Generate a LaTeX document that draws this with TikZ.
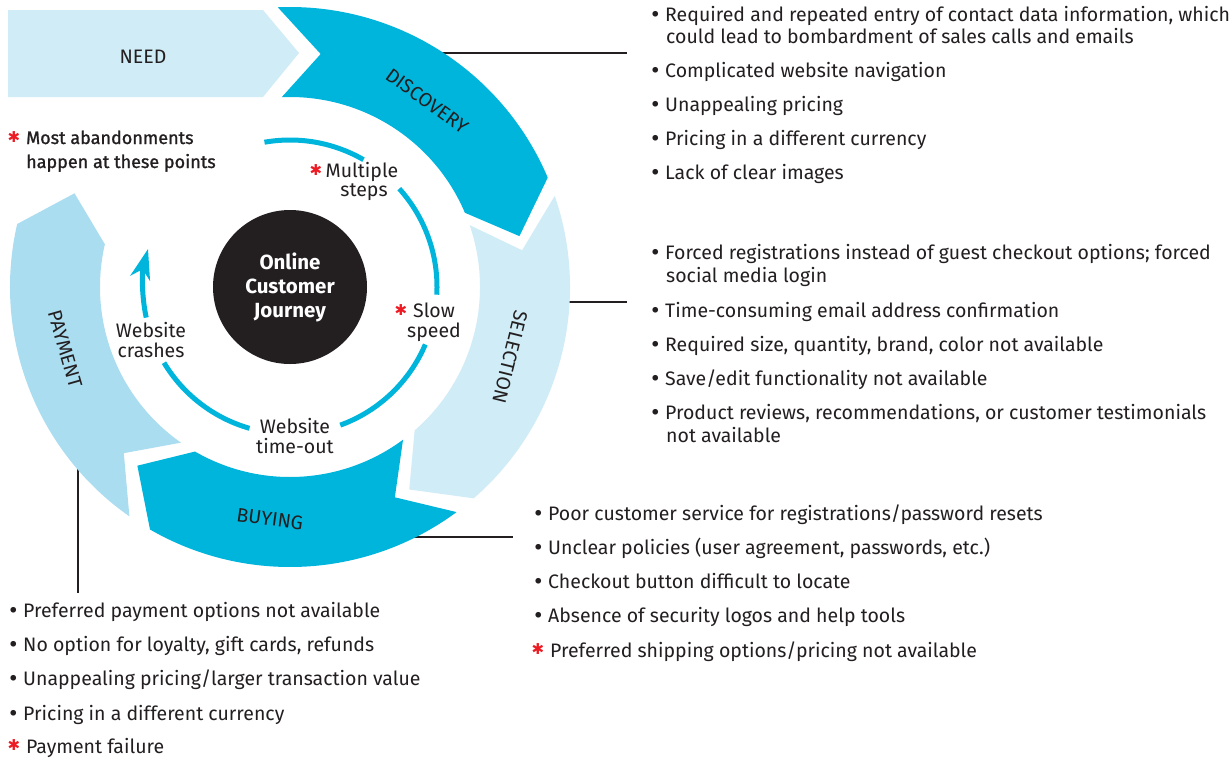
\documentclass[tikz,border=0pt]{standalone}
\usepackage{fontspec}
\setmainfont{Fira Sans}
\newfontfamily\symfont{DejaVu Sans}
\newfontfamily\medfont{Fira Sans}[FakeBold=1.2]
\usetikzlibrary{calc,arrows.meta}

\definecolor{cyanband}{HTML}{00B5DC}
\definecolor{paleband}{HTML}{D0ECF7}
\definecolor{midband}{HTML}{ABDDF0}
\definecolor{ink}{HTML}{231F20}
\definecolor{alert}{HTML}{ED1C24}

% one curved arrow of the journey ring: colour, tail angle, head angle
\newcommand\ringband[3]{%
  \fill[#1] ($(C)+(#2:280)$) arc[start angle=#2, end angle=#3, radius=280pt]
    -- ($(C)+(#3-10.5:235)$) -- ($(C)+(#3:190)$)
    arc[start angle=#3, end angle=#2, radius=190pt]
    -- ($(C)+(#2-10:235)$) -- cycle;}

\newcommand\redstar{{\symfont\color{alert}\fontsize{15}{15}\selectfont ✱}}
\newcommand\dotmark{\makebox[13pt][l]{\hspace{-2.5pt}{\symfont •}}}

\begin{document}
\begin{tikzpicture}[x=1pt, y=1pt,
  txt/.style={font=\fontsize{19.5}{20}\selectfont, text=ink, inner sep=0pt},
  item/.style={txt, anchor=base west},
  bandlabel/.style={txt},
  innerlabel/.style={txt, align=center},
  hub/.style={font=\bfseries\fontsize{20.5}{24}\selectfont, text=white, align=center, inner sep=0pt},
  star/.style={inner sep=0pt},
  lead/.style={draw=ink, line width=1.6pt},
  track/.style={draw=cyanband, line width=5pt}]

\useasboundingbox (0,0) rectangle (1230,-758);
\fill[white] (0,0) rectangle (1230,-758);
\coordinate (C) at (290,-287);

% leader lines (their inner ends hide under the ring)
\coordinate (discTap) at (430,-53);
\coordinate (discEnd) at (627,-53);
\coordinate (selTap) at (540,-302);
\coordinate (selEnd) at (627,-302);
\coordinate (buyTap) at (395,-537);
\coordinate (buyEnd) at (513,-537);
\coordinate (payTap) at (78,-455);
\coordinate (payEnd) at (78,-593);
\draw[lead] (discTap) -- (discEnd);
\draw[lead] (selTap) -- (selEnd);
\draw[lead] (buyTap) -- (buyEnd);
\draw[lead] (payTap) -- (payEnd);

% NEED arrow
\fill[paleband] (8,-10) -- (263,-10) -- (299,-53) -- (263,-97) -- (8,-97) -- cycle;
\node[bandlabel] (need) at (143,-57) {NEED};

% journey ring
\ringband{cyanband}{92.5}{23}
\ringband{paleband}{19}{-49}
\ringband{cyanband}{-53.5}{-120}
\ringband{midband}{-125}{-193}

\node[bandlabel, rotate=-36] (disc) at (427,-101) {DISCOVERY};
\node[bandlabel, rotate=-104] (sel) at (510,-357) {SELECTION};
\node[bandlabel, rotate=-8] (buy) at (270,-519) {BUYING};
\node[bandlabel, rotate=-74] (pay) at (65,-349) {PAYMENT};

% inner track
\draw[track] ($(C)+(100:147)$) arc[start angle=100, end angle=60, radius=147pt];
\draw[track] ($(C)+(42:147)$) arc[start angle=42, end angle=-3, radius=147pt];
\draw[track] ($(C)+(-23:147)$) arc[start angle=-23, end angle=-70, radius=147pt];
\draw[track] ($(C)+(-106:147)$) arc[start angle=-106, end angle=-149, radius=147pt];
\draw[track, -{Stealth[length=30pt, width=20pt, inset=9pt]}]
  ($(C)+(-168:147)$) arc[start angle=-168, end angle=-195, radius=147pt];

% hub
\fill[ink] (C) circle[radius=77pt];
\node[hub] (hubtext) at ($(C)+(0,0)$) {Online\\Customer\\Journey};

% labels on the track
\node[innerlabel, anchor=base] (steps1) at (362,-177) {Multiple};
\node[innerlabel, anchor=base] (steps2) at (364,-196) {steps};
\node[star] (stepsStar) at (316,-170) {\redstar};
\node[innerlabel, anchor=base] (slow1) at (434,-317) {Slow};
\node[innerlabel, anchor=base] (slow2) at (434,-337) {speed};
\node[star] (slowStar) at (401,-310) {\redstar};
\node[innerlabel, anchor=base] (time1) at (295,-433) {Website};
\node[innerlabel, anchor=base] (time2) at (295,-453) {time-out};
\node[innerlabel, anchor=base] (crash1) at (151,-337) {Website};
\node[innerlabel, anchor=base] (crash2) at (151,-357) {crashes};

% key
\node[star] (keyStar) at (14,-137) {\redstar};
\node[item, font=\medfont\fontsize{18}{20}\selectfont] (key1) at (26,-144) {Most abandonments};
\node[item, font=\medfont\fontsize{18}{20}\selectfont] (key2) at (26,-168) {happen at these points};

% discovery issues
\node[item] (d1) at (652,-21) {\dotmark Required and repeated entry of contact data information, which};
\node[item] (d1b) at (666,-43) {could lead to bombardment of sales calls and emails};
\node[item] (d2) at (652,-77) {\dotmark Complicated website navigation};
\node[item] (d3) at (652,-111) {\dotmark Unappealing pricing};
\node[item] (d4) at (652,-145) {\dotmark Pricing in a different currency};
\node[item] (d5) at (652,-179) {\dotmark Lack of clear images};

% selection issues
\node[item] (s1) at (652,-259) {\dotmark Forced registrations instead of guest checkout options; forced};
\node[item] (s1b) at (666,-282) {social media login};
\node[item] (s2) at (652,-317) {\dotmark Time-consuming email address confirmation};
\node[item] (s3) at (652,-351) {\dotmark Required size, quantity, brand, color not available};
\node[item] (s4) at (652,-385) {\dotmark Save/edit functionality not available};
\node[item] (s5) at (652,-419) {\dotmark Product reviews, recommendations, or customer testimonials};
\node[item] (s5b) at (666,-442) {not available};

% buying issues
\node[item] (b1) at (535,-520) {\dotmark Poor customer service for registrations/password resets};
\node[item] (b2) at (535,-554) {\dotmark Unclear policies (user agreement, passwords, etc.)};
\node[item] (b3) at (535,-588) {\dotmark Checkout button difficult to locate};
\node[item] (b4) at (535,-622) {\dotmark Absence of security logos and help tools};
\node[item] (b5) at (550,-657) {Preferred shipping options/pricing not available};
\node[star] (b5Star) at (538,-649) {\redstar};

% payment issues
\node[item] (p1) at (10,-617) {\dotmark Preferred payment options not available};
\node[item] (p2) at (10,-651) {\dotmark No option for loyalty, gift cards, refunds};
\node[item] (p3) at (10,-685) {\dotmark Unappealing pricing/larger transaction value};
\node[item] (p4) at (10,-720) {\dotmark Pricing in a different currency};
\node[item] (p5) at (26,-753) {Payment failure};
\node[star] (p5Star) at (14,-745) {\redstar};
\end{tikzpicture}
\end{document}
